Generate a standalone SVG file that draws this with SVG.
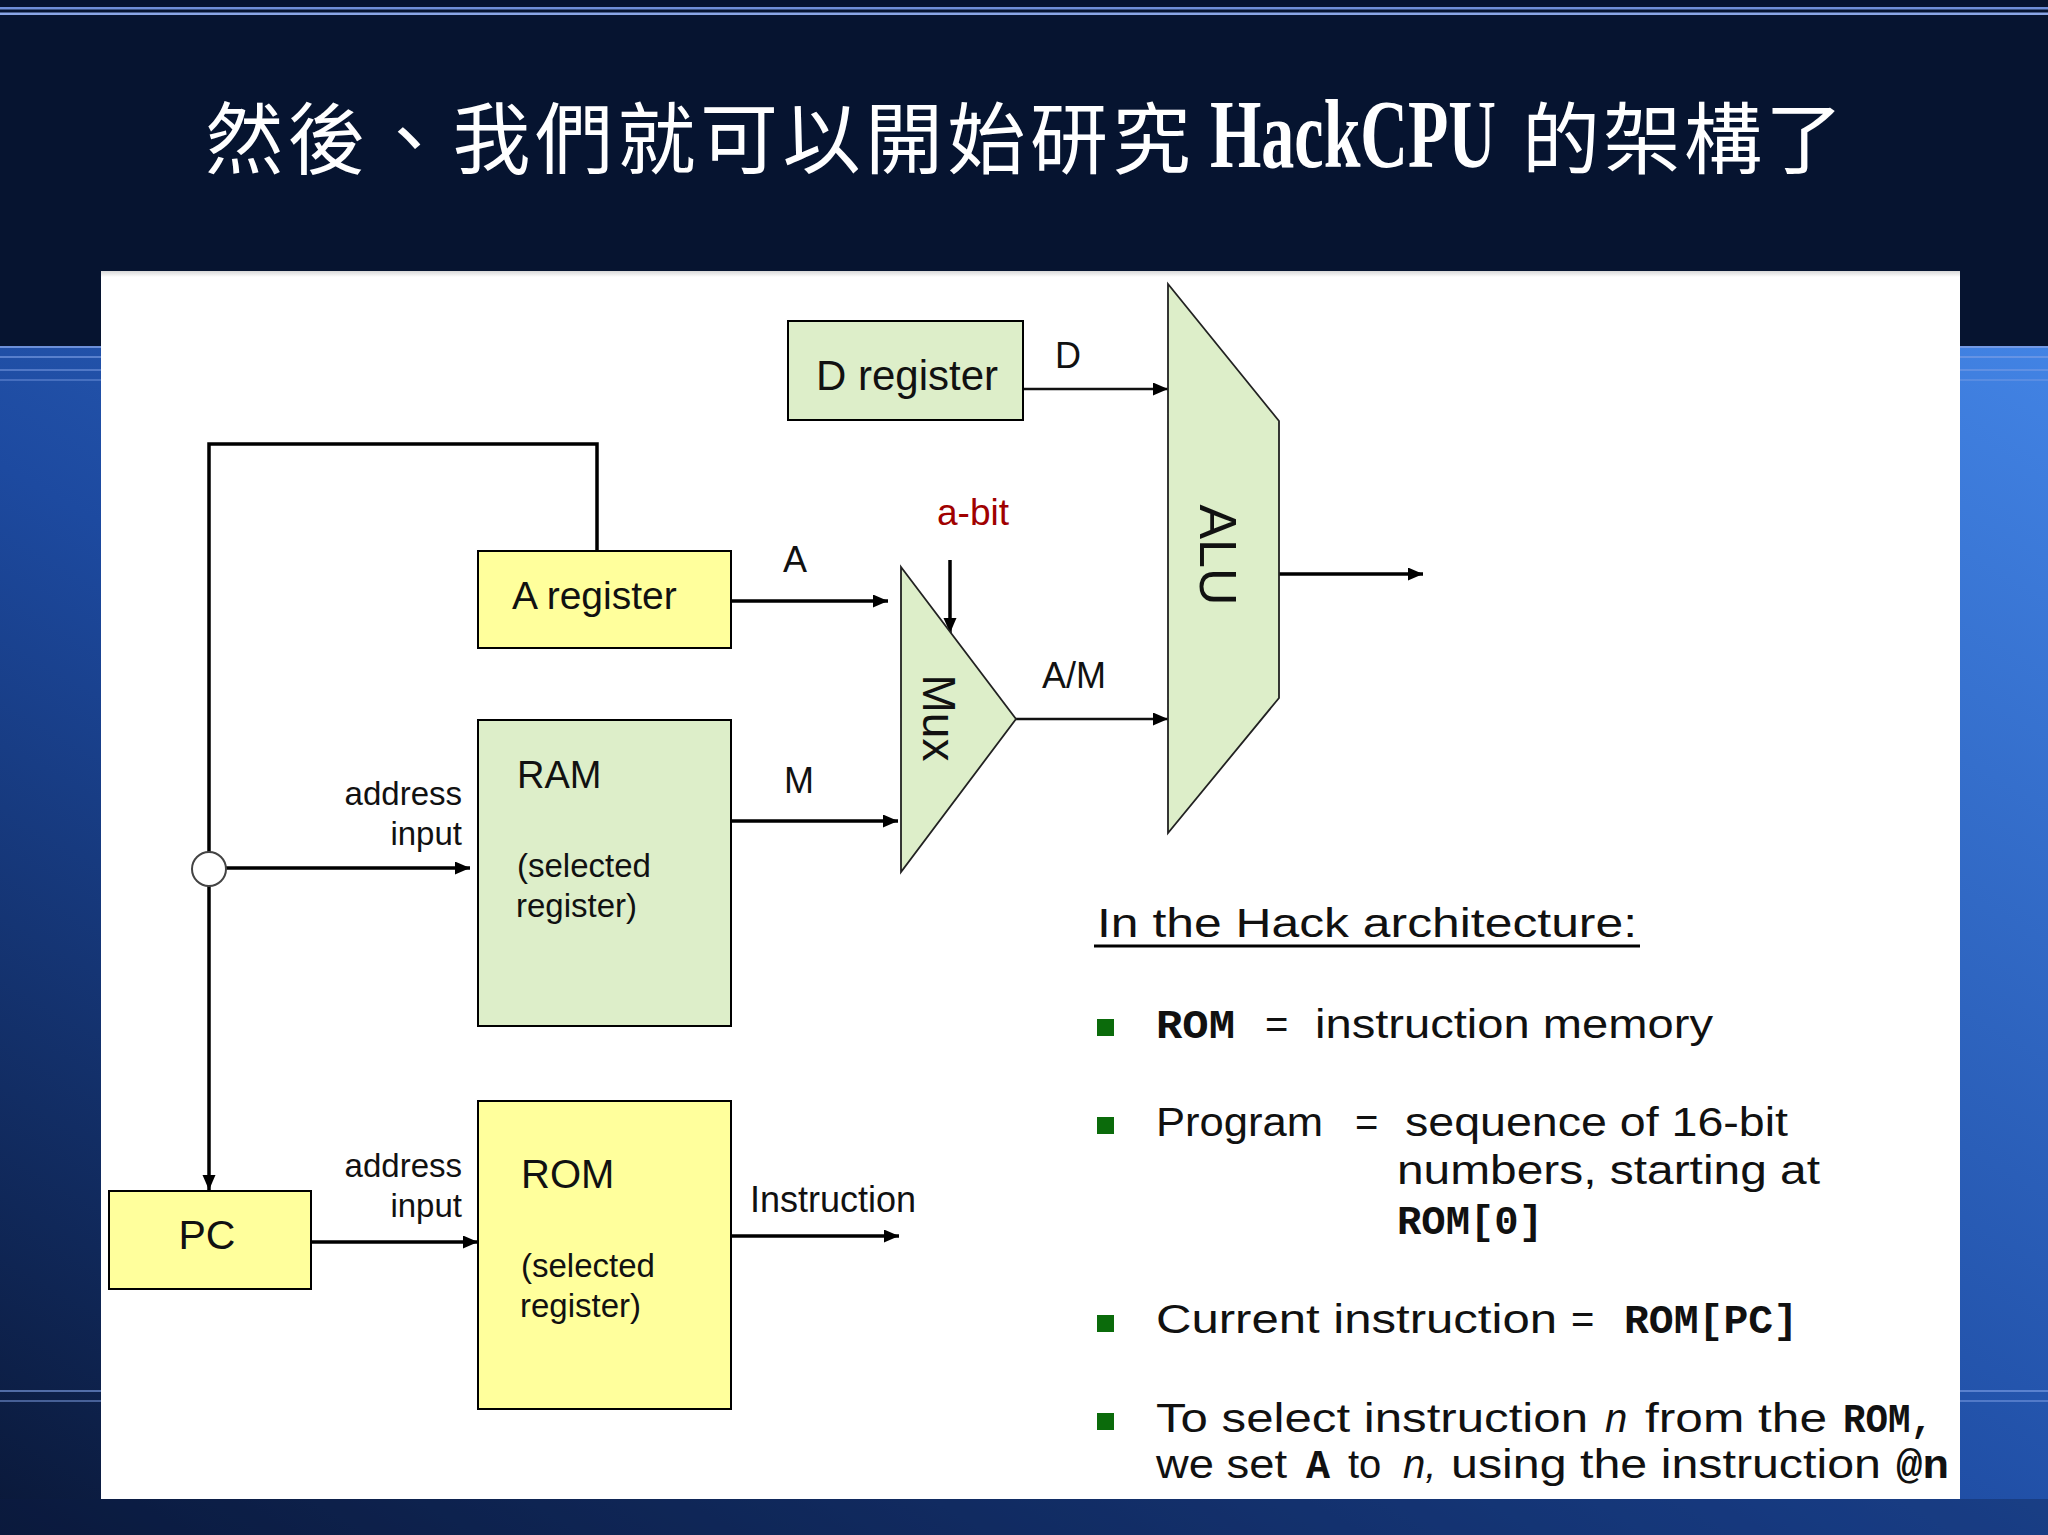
<svg xmlns="http://www.w3.org/2000/svg" width="2048" height="1535" viewBox="0 0 2048 1535">
<defs>
<linearGradient id="bg" x1="0" y1="1" x2="1" y2="0">
<stop offset="0" stop-color="#0a1838"/>
<stop offset="0.45" stop-color="#1d4aa0"/>
<stop offset="1" stop-color="#4283e4"/>
</linearGradient>
<linearGradient id="panelTop" x1="0" y1="0" x2="0" y2="1">
<stop offset="0" stop-color="#d8d8d8"/>
<stop offset="1" stop-color="#ffffff"/>
</linearGradient>
<marker id="arr" markerUnits="userSpaceOnUse" markerWidth="16" markerHeight="14" refX="15" refY="6.5" orient="auto">
<path d="M0,0 L15,6.5 L0,13 z" fill="#000"/>
</marker>
<style>
.box{stroke:#000;stroke-width:2}
.green{fill:#ddeec9}
.yellow{fill:#ffff9c}
.shape{fill:#ddeec9;stroke:#222;stroke-width:1.8}
.wire{fill:none;stroke:#000;stroke-width:3.5}
.thin{fill:none;stroke:#111;stroke-width:2.5}
.lbl{font-family:"Liberation Sans",Arial,sans-serif;fill:#111}
.body{font-family:"Liberation Sans",Arial,sans-serif;font-size:40px;fill:#111}
.mono{font-family:"Liberation Mono","Courier New",monospace;font-weight:bold;font-size:40px;fill:#111}
.it{font-style:italic}
.bul{fill:#0b6b0b}
.title{font-family:"Noto Sans CJK TC","Noto Sans CJK SC",sans-serif;font-size:78px;fill:#fff}
</style>
</defs>

<!-- background -->
<rect x="0" y="0" width="2048" height="1535" fill="#061430"/>
<rect x="0" y="346" width="2048" height="1189" fill="url(#bg)"/>
<rect x="0" y="7" width="2048" height="2.5" fill="#6f8fd8"/>
<rect x="0" y="12.5" width="2048" height="2.5" fill="#8aa6e6"/>
<rect x="0" y="346" width="2048" height="2" fill="#7fa0e6" opacity="0.8"/>
<rect x="0" y="356" width="2048" height="2" fill="#7fa0e6" opacity="0.6"/>
<rect x="0" y="369" width="2048" height="2" fill="#7fa0e6" opacity="0.5"/>
<rect x="0" y="379" width="2048" height="2" fill="#7fa0e6" opacity="0.4"/>
<rect x="0" y="1390" width="2048" height="2" fill="#7fa0e6" opacity="0.6"/>
<rect x="0" y="1400" width="2048" height="2" fill="#7fa0e6" opacity="0.5"/>
<rect x="0" y="1499" width="2048" height="36" fill="#0c1d45" opacity="0.35"/>

<!-- title -->
<g id="title">
<text class="title" y="168" x="205 287.5 370 452.5 535 617.5 700 782.5 865 947.5 1030 1112.5">然後、我們就可以開始研究</text>
<text transform="translate(1210 167) scale(1 1.47)" font-family="Liberation Serif,serif" font-weight="bold" font-size="66" fill="#fff">HackCPU</text>
<text class="title" y="168" x="1522 1603 1684 1765">的架構了</text>
</g>

<!-- panel -->
<rect x="101" y="271" width="1859" height="1228" fill="#fff"/>
<rect x="101" y="271" width="1859" height="6" fill="url(#panelTop)"/>

<!-- connectors -->
<g id="connectors">
<line class="thin" x1="1023" y1="389" x2="1168" y2="389" marker-end="url(#arr)"/>
<line class="wire" x1="731" y1="601" x2="888" y2="601" marker-end="url(#arr)"/>
<line class="wire" x1="731" y1="821" x2="898" y2="821" marker-end="url(#arr)"/>
<line class="wire" x1="950" y1="560" x2="950" y2="633" marker-end="url(#arr)"/>
<line class="thin" x1="1016" y1="719" x2="1168" y2="719" marker-end="url(#arr)"/>
<line class="wire" x1="1279" y1="574" x2="1423" y2="574" marker-end="url(#arr)"/>
<polyline class="wire" points="597,552 597,444 209,444 209,852"/>
<line class="wire" x1="209" y1="886" x2="209" y2="1190" marker-end="url(#arr)"/>
<line class="wire" x1="226" y1="868" x2="470" y2="868" marker-end="url(#arr)"/>
<line class="wire" x1="311" y1="1242" x2="478" y2="1242" marker-end="url(#arr)"/>
<line class="wire" x1="731" y1="1236" x2="899" y2="1236" marker-end="url(#arr)"/>
<circle cx="209" cy="869" r="17" fill="#fff" stroke="#444" stroke-width="2"/>
<text class="lbl" x="1055" y="368" font-size="36">D</text>
<text class="lbl" x="783" y="572" font-size="36">A</text>
<text class="lbl" x="784" y="793" font-size="36">M</text>
<text class="lbl" x="937" y="525" font-size="37" style="fill:#a00000">a-bit</text>
<text class="lbl" x="1042" y="688" font-size="36">A/M</text>
<text class="lbl" x="750" y="1212" font-size="36">Instruction</text>
<text class="lbl" x="462" y="805" font-size="33" text-anchor="end">address</text>
<text class="lbl" x="462" y="845" font-size="33" text-anchor="end">input</text>
<text class="lbl" x="462" y="1177" font-size="33" text-anchor="end">address</text>
<text class="lbl" x="462" y="1217" font-size="33" text-anchor="end">input</text>
</g>

<!-- nodes -->
<g id="d-register">
<rect class="box green" x="788" y="321" width="235" height="99"/>
<text class="lbl" x="907" y="390" font-size="42" text-anchor="middle">D register</text>
</g>
<g id="a-register">
<rect class="box yellow" x="478" y="551" width="253" height="97"/>
<text class="lbl" x="512" y="609" font-size="39">A register</text>
</g>
<g id="ram">
<rect class="box green" x="478" y="720" width="253" height="306"/>
<text class="lbl" x="517" y="788" font-size="38">RAM</text>
<text class="lbl" x="517" y="877" font-size="33">(selected</text>
<text class="lbl" x="516" y="917" font-size="33">register)</text>
</g>
<g id="rom">
<rect class="box yellow" x="478" y="1101" width="253" height="308"/>
<text class="lbl" x="521" y="1188" font-size="40">ROM</text>
<text class="lbl" x="521" y="1277" font-size="33">(selected</text>
<text class="lbl" x="520" y="1317" font-size="33">register)</text>
</g>
<g id="pc">
<rect class="box yellow" x="109" y="1191" width="202" height="98"/>
<text class="lbl" x="207" y="1249" font-size="41" text-anchor="middle">PC</text>
</g>
<g id="mux">
<polygon class="shape" points="901,567 1016,719 901,872"/>
<text class="lbl" x="923" y="718" font-size="46" text-anchor="middle" transform="rotate(90 923 718)">Mux</text>
</g>
<g id="alu">
<polygon class="shape" points="1168,284 1279,421 1279,698 1168,833"/>
<text class="lbl" x="1200" y="555" font-size="52" text-anchor="middle" transform="rotate(90 1200 555)">ALU</text>
</g>

<!-- text block -->
<g id="notes">
<text class="body" x="1097" y="937" textLength="540" lengthAdjust="spacingAndGlyphs">In the Hack architecture:</text>
<line x1="1094" y1="946" x2="1640" y2="946" stroke="#000" stroke-width="3"/>

<rect class="bul" x="1097" y="1019" width="17" height="17"/>
<text class="body" y="1038"><tspan class="mono" x="1156" textLength="79" lengthAdjust="spacingAndGlyphs">ROM</tspan><tspan x="1265">=</tspan><tspan x="1315" textLength="398" lengthAdjust="spacingAndGlyphs">instruction memory</tspan></text>

<rect class="bul" x="1097" y="1117" width="17" height="17"/>
<text class="body" y="1136"><tspan x="1156" textLength="167" lengthAdjust="spacingAndGlyphs">Program</tspan><tspan x="1355">=</tspan><tspan x="1405" textLength="383" lengthAdjust="spacingAndGlyphs">sequence of 16-bit</tspan></text>
<text class="body" x="1397" y="1184" textLength="423" lengthAdjust="spacingAndGlyphs">numbers, starting at</text>
<text class="mono" x="1397" y="1234" textLength="146" lengthAdjust="spacingAndGlyphs">ROM[0]</text>

<rect class="bul" x="1097" y="1315" width="17" height="17"/>
<text class="body" y="1333"><tspan x="1156" textLength="401" lengthAdjust="spacingAndGlyphs">Current instruction</tspan><tspan x="1571">=</tspan><tspan class="mono" x="1624" textLength="174" lengthAdjust="spacingAndGlyphs">ROM[PC]</tspan></text>

<rect class="bul" x="1097" y="1413" width="17" height="17"/>
<text class="body" y="1432"><tspan x="1156" textLength="432" lengthAdjust="spacingAndGlyphs">To select instruction</tspan><tspan class="it" x="1605">n</tspan><tspan x="1645" textLength="182" lengthAdjust="spacingAndGlyphs">from the</tspan><tspan class="mono" x="1843" textLength="90" lengthAdjust="spacingAndGlyphs">ROM,</tspan></text>
<text class="body" y="1478"><tspan x="1156" textLength="131" lengthAdjust="spacingAndGlyphs">we set</tspan><tspan class="mono" x="1306">A</tspan><tspan x="1348">to</tspan><tspan class="it" x="1403">n,</tspan><tspan x="1451" textLength="430" lengthAdjust="spacingAndGlyphs">using the instruction</tspan><tspan class="mono" x="1896" textLength="53" lengthAdjust="spacingAndGlyphs">@n</tspan></text>
</g>
</svg>
